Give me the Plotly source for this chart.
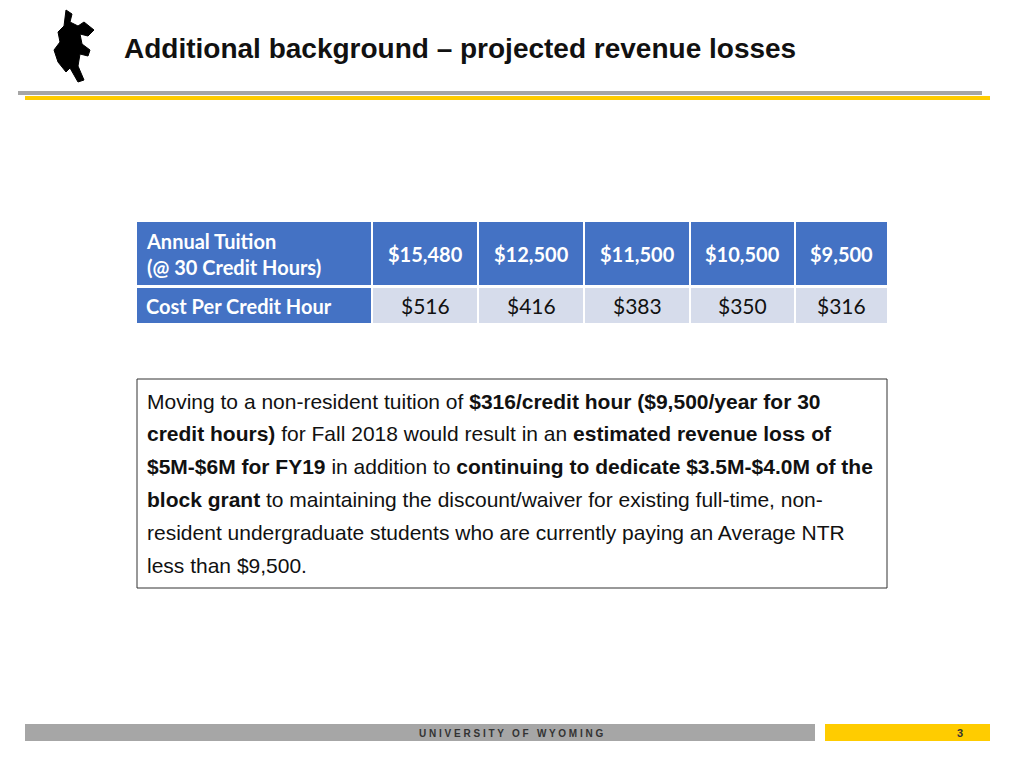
import plotly.graph_objects as go

header_label = "Annual Tuition<br>(@ 30 Credit Hours)"
row_label = "Cost Per Credit Hour"
tuition = ["$15,480", "$12,500", "$11,500", "$10,500", "$9,500"]
cost_per_hour = ["$516", "$416", "$383", "$350", "$316"]
title = "Additional background – projected revenue losses"
body_lines = [
    "Moving to a non-resident tuition of <b>$316/credit hour ($9,500/year for 30</b>",
    "<b>credit hours)</b> for Fall 2018 would result in an <b>estimated revenue loss of</b>",
    "<b>$5M-$6M for FY19</b> in addition to <b>continuing to dedicate $3.5M-$4.0M of the</b>",
    "<b>block grant</b> to maintaining the discount/waiver for existing full-time, non-",
    "resident undergraduate students who are currently paying an Average NTR",
    "less than $9,500.",
]

BLUE = "#4472C4"
LIGHT = "#D6DCEB"
NARROW = "Liberation Sans Narrow, Arial Narrow, sans-serif"
CAL = "Lato, Open Sans, sans-serif"

fig = go.Figure()
shapes = []
ann = []

def rect(x0, y0, x1, y1, fill, line=None, w=0):
    shapes.append(dict(type="rect", x0=x0, y0=y0, x1=x1, y1=y1, fillcolor=fill,
                       line=dict(color=line or fill, width=w), layer="below"))

shapes.append(dict(type="line", x0=18, x1=982, y0=93, y1=93, line=dict(color="#A6A6A6", width=4)))
shapes.append(dict(type="line", x0=25, x1=990, y0=98, y1=98, line=dict(color="#FFCC00", width=4)))
ann.append(dict(x=122, y=48, text="<b>" + title + "</b>", showarrow=False, xanchor="left",
                yanchor="middle", font=dict(family=NARROW, size=28, color="#111")))

shapes.append(dict(type="path",
    path="M66,10 L72,14 L70,22 L78,26 L84,22 L94,30 L88,36 L80,34 L82,44 L90,50 L88,56 L80,54 L78,66 L84,80 L78,82 L70,68 L66,72 L58,62 L54,50 L60,42 L58,32 L64,26 Z",
    fillcolor="#000", line=dict(color="#000", width=1)))

cols = [(137, 371), (373, 477), (479, 583), (585, 689), (691, 794), (796, 887)]
r1 = (222, 285)
r2 = (288, 323)
rect(cols[0][0], r1[0], cols[0][1], r1[1], BLUE)
rect(cols[0][0], r2[0], cols[0][1], r2[1], BLUE)
ann.append(dict(x=144, y=(r1[0] + r1[1]) / 2, text="<b>" + header_label + "</b>", showarrow=False,
                xanchor="left", align="left", yanchor="middle",
                font=dict(family=CAL, size=20, color="white")))
ann.append(dict(x=144, y=(r2[0] + r2[1]) / 2, text="<b>" + row_label + "</b>", showarrow=False,
                xanchor="left", yanchor="middle", font=dict(family=CAL, size=20, color="white")))
for i, (t, c) in enumerate(zip(tuition, cost_per_hour)):
    x0, x1 = cols[i + 1]
    rect(x0, r1[0], x1, r1[1], BLUE)
    rect(x0, r2[0], x1, r2[1], LIGHT)
    ann.append(dict(x=(x0 + x1) / 2, y=(r1[0] + r1[1]) / 2, text="<b>" + t + "</b>", showarrow=False,
                    font=dict(family=CAL, size=20, color="white")))
    ann.append(dict(x=(x0 + x1) / 2, y=(r2[0] + r2[1]) / 2, text=c, showarrow=False,
                    font=dict(family=CAL, size=21, color="#111")))

shapes.append(dict(type="rect", x0=137, y0=379, x1=887, y1=588, fillcolor="white",
                   line=dict(color="#333", width=1)))
for i, line in enumerate(body_lines):
    ann.append(dict(x=145, y=401 + i * 32.8, text=line, showarrow=False, xanchor="left",
                    yanchor="middle", font=dict(family=NARROW, size=21, color="#111")))

shapes.append(dict(type="rect", x0=25, y0=724, x1=815, y1=741, fillcolor="#A6A6A6",
                   line=dict(width=0)))
shapes.append(dict(type="rect", x0=825, y0=724, x1=990, y1=741, fillcolor="#FFCC00",
                   line=dict(width=0)))
ann.append(dict(x=511, y=733, text="<b>U N I V E R S I T Y   O F   W Y O M I N G</b>", showarrow=False,
                font=dict(family="Liberation Sans, Arial", size=10, color="#333")))
ann.append(dict(x=960, y=733, text="<b>3</b>", showarrow=False,
                font=dict(family="Liberation Sans, Arial", size=11, color="#333")))

fig.update_layout(width=1024, height=768, margin=dict(l=0, r=0, t=0, b=0),
                  paper_bgcolor="white", plot_bgcolor="white",
                  xaxis=dict(range=[8, 1032], visible=False, fixedrange=True),
                  yaxis=dict(range=[776, 8], visible=False, fixedrange=True),
                  shapes=shapes, annotations=ann, showlegend=False)
fig.write_html("out.html", config={"displayModeBar": False})
